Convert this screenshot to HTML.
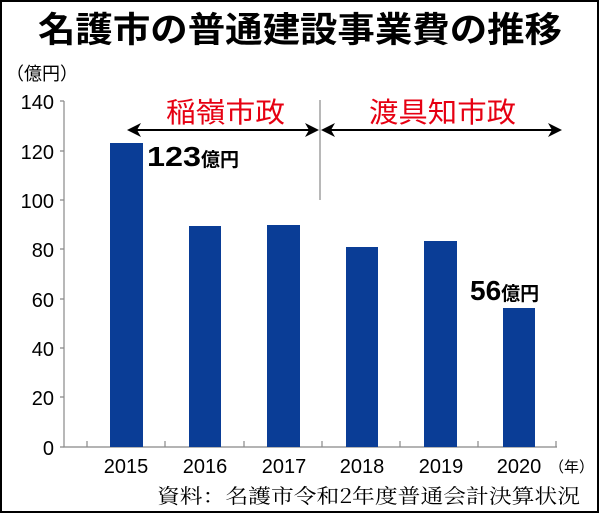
<!DOCTYPE html>
<html><head><meta charset="utf-8"><style>
body{margin:0;background:#fff}
svg{display:block}
text{font-family:"Liberation Sans","Noto Sans CJK JP",sans-serif}
</style></head><body>
<svg width="600" height="514" viewBox="0 0 600 514">
<rect x="1" y="1" width="597" height="511" fill="#fff" stroke="#000" stroke-width="2"/>
<text x="38" y="42" font-size="35" font-weight="bold" fill="#000" textLength="524" lengthAdjust="spacingAndGlyphs">名護市の普通建設事業費の推移</text>
<text x="6" y="80" font-size="18" fill="#000">（億円）</text>
<g font-size="20" fill="#000" text-anchor="end">
<text x="54" y="109">140</text><text x="54" y="159">120</text><text x="54" y="208">100</text>
<text x="54" y="257">80</text><text x="54" y="307">60</text><text x="54" y="356">40</text>
<text x="54" y="405">20</text><text x="54" y="455">0</text>
</g>
<g stroke="#888" stroke-width="1.2" fill="none">
<path d="M64 101V447H557"/>
<path d="M60 101H64M60 151H64M60 200H64M60 249H64M60 299H64M60 348H64M60 397H64M60 447H64"/>
<path d="M87 441V447M165 441V447M244 441V447M322 441V447M400 441V447M478 441V447M556 441V447"/>
<path d="M320 100V200"/>
</g>
<g fill="#0a3d96">
<rect x="110" y="143" width="33" height="304"/>
<rect x="189" y="226" width="32" height="221"/>
<rect x="267" y="225" width="33" height="222"/>
<rect x="346" y="247" width="32" height="200"/>
<rect x="424" y="241" width="33" height="206"/>
<rect x="503" y="308" width="32" height="139"/>
</g>
<g font-size="20" fill="#000" text-anchor="middle">
<text x="126" y="473">2015</text><text x="205" y="473">2016</text><text x="284" y="473">2017</text>
<text x="362" y="473">2018</text><text x="441" y="473">2019</text><text x="519" y="473">2020</text>
</g>
<text x="549" y="472" font-size="15" fill="#000">（年）</text>
<text x="157" y="503" font-size="20" fill="#000" textLength="423" lengthAdjust="spacingAndGlyphs" style="font-family:'Noto Serif CJK SC','Liberation Serif',serif">資料：名護市令和2年度普通会計決算状況</text>
<g stroke="#000" stroke-width="2"><path d="M130 130H317M323 130H559"/></g>
<g fill="#000">
<path d="M127 130L141 123L137 130L141 137Z"/>
<path d="M319 130L305 123L309 130L305 137Z"/>
<path d="M321 130L335 123L331 130L335 137Z"/>
<path d="M562 130L548 123L552 130L548 137Z"/>
</g>
<g font-size="28" fill="#e60012" font-weight="normal">
<text x="166" y="122" textLength="119" lengthAdjust="spacingAndGlyphs">稲嶺市政</text>
<text x="369" y="122" textLength="147" lengthAdjust="spacingAndGlyphs">渡具知市政</text>
</g>
<text x="147" y="166" font-size="28" font-weight="bold" fill="#000"><tspan textLength="54" lengthAdjust="spacingAndGlyphs">123</tspan><tspan font-size="19">億円</tspan></text>
<text x="470" y="300" font-size="28" font-weight="bold" fill="#000">56<tspan font-size="19">億円</tspan></text>
</svg>
</body></html>
